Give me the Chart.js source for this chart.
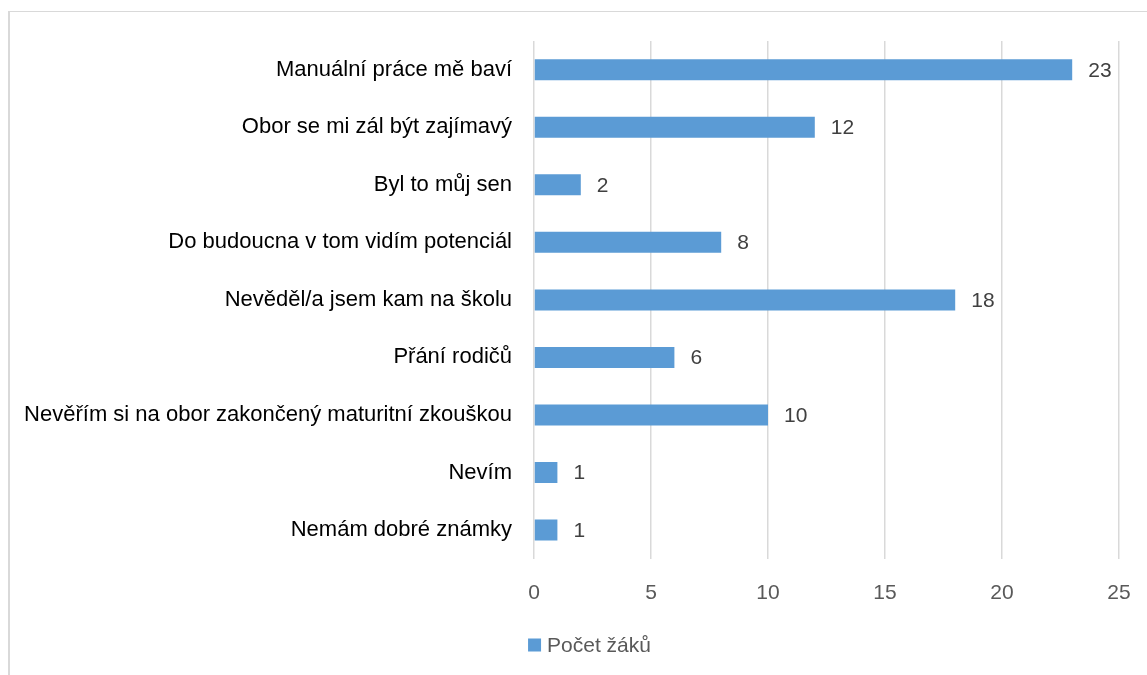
<!DOCTYPE html>
<html>
<head>
<meta charset="utf-8">
<script src="https://cdn.jsdelivr.net/npm/chart.js@4.4.1/dist/chart.umd.min.js"></script>
<style>
  html, body { margin: 0; padding: 0; background: #ffffff; overflow: hidden; }
  #wrap { position: relative; width: 1147px; height: 675px; }
  #frame { position: absolute; left: 8px; top: 11px; width: 1300px; height: 800px;
           border-top: 1px solid #d9d9d9; border-left: 2px solid #d9d9d9; box-sizing: border-box; }
  #c { position: absolute; left: 0; top: 0; }
</style>
</head>
<body>
<div id="wrap">
  <div id="frame"></div>
  <canvas id="c" width="1147" height="675"></canvas>
</div>
<script>
const categories = [
  "Manuální práce mě baví",
  "Obor se mi zál být zajímavý",
  "Byl to můj sen",
  "Do budoucna v tom vidím potenciál",
  "Nevěděl/a jsem kam na školu",
  "Přání rodičů",
  "Nevěřím si na obor zakončený maturitní zkouškou",
  "Nevím",
  "Nemám dobré známky"
];
const values = [23, 12, 2, 8, 18, 6, 10, 1, 1];
const seriesName = "Počet žáků";
const xMin = 0;
const xMax = 25;
const xStep = 5;

const FONT = "'Liberation Sans', Arial, sans-serif";
const BAR_COLOR = '#5B9BD5';

const valueLabels = {
  id: 'valueLabels',
  afterDatasetsDraw(chart) {
    const ctx = chart.ctx;
    const meta = chart.getDatasetMeta(0);
    ctx.save();
    ctx.font = "21px " + FONT;
    ctx.fillStyle = '#404040';
    ctx.textAlign = 'left';
    ctx.textBaseline = 'middle';
    meta.data.forEach((el, i) => {
      ctx.fillText(String(chart.data.datasets[0].data[i]), el.x + 16, el.y + 1);
    });
    ctx.restore();
  }
};

const bottomLegend = {
  id: 'bottomLegend',
  afterDraw(chart) {
    const ctx = chart.ctx;
    const ds = chart.data.datasets[0];
    ctx.save();
    ctx.font = "21px " + FONT;
    const tw = ctx.measureText(ds.label).width;
    const box = 13, gap = 6;
    const total = box + gap + tw;
    const cx = 589.5;
    const cy = 645;
    const x0 = cx - total / 2;
    ctx.fillStyle = ds.backgroundColor;
    ctx.fillRect(x0, cy - box / 2, box, box);
    ctx.fillStyle = '#595959';
    ctx.textAlign = 'left';
    ctx.textBaseline = 'middle';
    ctx.fillText(ds.label, x0 + box + gap, cy + 1);
    ctx.restore();
  }
};

new Chart(document.getElementById('c'), {
  type: 'bar',
  data: {
    labels: categories,
    datasets: [{
      label: seriesName,
      data: values,
      backgroundColor: BAR_COLOR,
      borderWidth: 0,
      categoryPercentage: 1,
      barPercentage: 0.365
    }]
  },
  options: {
    indexAxis: 'y',
    responsive: false,
    devicePixelRatio: 1,
    animation: false,
    layout: { autoPadding: false, padding: { left: 14, right: 28, top: 41, bottom: 47 } },
    scales: {
      x: {
        min: xMin, max: xMax,
        ticks: { stepSize: xStep, color: '#595959', font: { family: FONT, size: 21 }, padding: 22 },
        grid: { color: '#d9d9d9', lineWidth: 1.5, drawTicks: false },
        border: { display: false },
        afterFit(scale) { scale.paddingLeft = 0; scale.paddingRight = 0; }
      },
      y: {
        ticks: { color: '#000000', font: { family: FONT, size: 22 }, padding: 22, autoSkip: false },
        grid: { display: false, drawTicks: false },
        border: { display: false },
        afterFit(scale) { scale.width = 520; }
      }
    },
    plugins: {
      legend: { display: false },
      tooltip: { enabled: false }
    }
  },
  plugins: [valueLabels, bottomLegend]
});
</script>
</body>
</html>
